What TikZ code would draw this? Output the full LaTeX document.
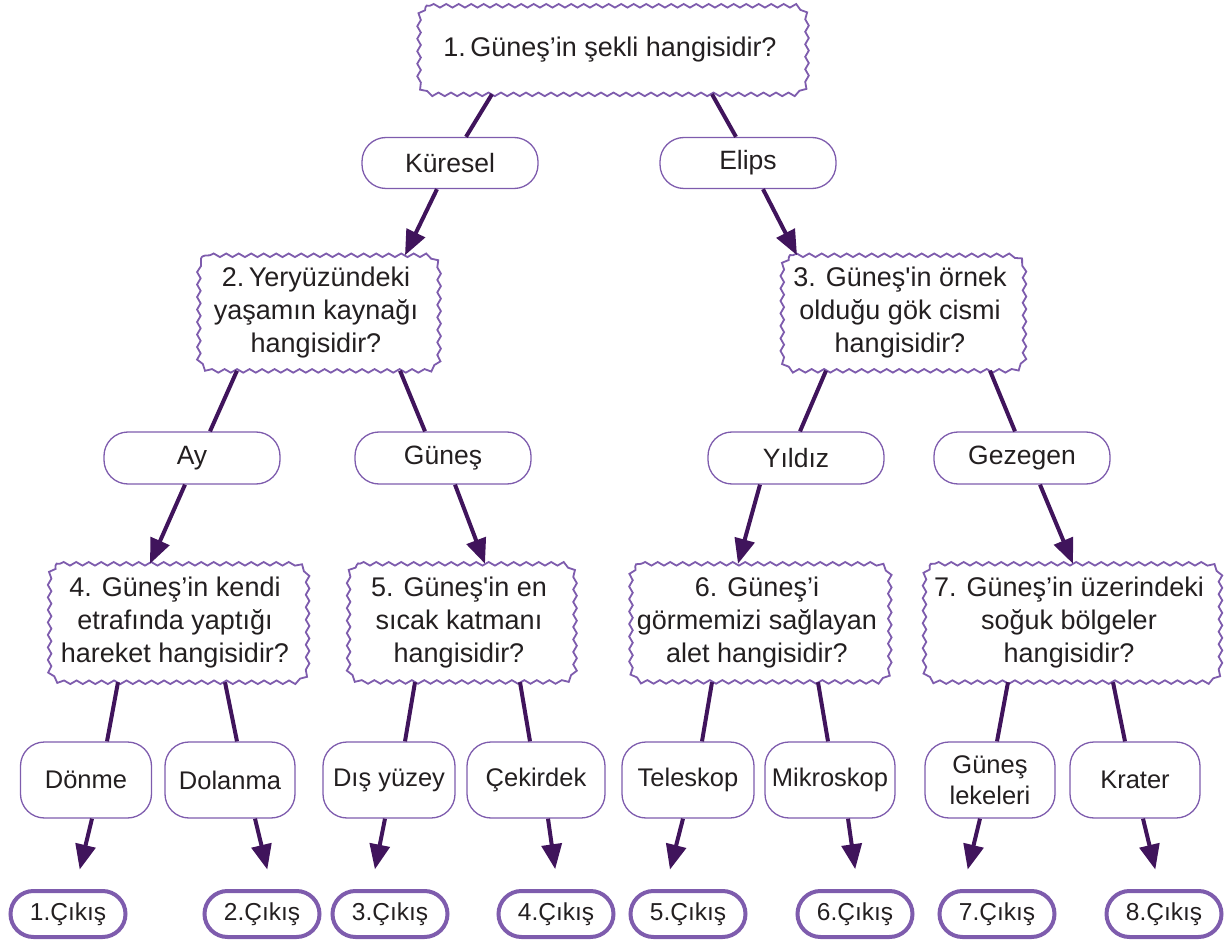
\documentclass[tikz,border=0pt]{standalone}
\usepackage{fontspec}
\setmainfont{Liberation Sans}
\usetikzlibrary{arrows.meta,decorations.pathmorphing,positioning}
\definecolor{boxline}{HTML}{7E5CAD}
\definecolor{linkline}{HTML}{40145C}
\definecolor{ink}{HTML}{231F20}
\tikzset{
    question/.style={
    rectangle,align=center,
    font=\fontsize{27}{33}\selectfont,text=ink,inner sep=0pt
    },
    wavy/.style={
    draw=boxline,line width=1.8pt,
    decorate,decoration={snake,amplitude=1.8pt,segment length=12.5pt}
    },
    choice/.style={
    rectangle,rounded corners=24pt,draw=boxline,line width=1.3pt,align=center,
    font=\fontsize{25.5}{31}\selectfont,text=ink,inner sep=0pt
    },
    bigchoice/.style={
    choice,font=\fontsize{26.5}{31}\selectfont,minimum width=176pt
    },
    cikis/.style={
    rectangle,rounded corners=23pt,draw=boxline,line width=4pt,align=center,
    font=\fontsize{24.5}{29}\selectfont,text=ink,inner sep=0pt,
    minimum width=115pt,minimum height=46pt
    },
    link/.style={
    draw=linkline,line width=4pt
    },
    arr/.style={
    draw=linkline,line width=4pt,-{Triangle[width=20pt,length=25pt]}
    },
}

\begin{document}
\begin{tikzpicture}[x=1pt,y=-1pt]
   \useasboundingbox (0,0) rectangle (1227,941);
   % questions
   \node[question,minimum width=388pt,minimum height=88pt] (q1) at (610,50) {1.\,Güneş’in şekli hangisidir?};
   \node[question,minimum width=240pt,minimum height=115pt] (q2) at (316,313) {2.\,Yeryüzündeki\\yaşamın kaynağı\\hangisidir?};
   \node[question,minimum width=242pt,minimum height=115pt] (q3) at (900,313) {3. Güneş\textquotesingle in örnek\\olduğu gök cismi\\hangisidir?};
   \node[question,minimum width=258pt,minimum height=118pt] (q4) at (175,623) {4. Güneş’in kendi\\etrafında yaptığı\\hareket hangisidir?};
   \node[question,minimum width=226pt,minimum height=118pt] (q5) at (459,623) {5. Güneş\textquotesingle in en\\sıcak katmanı\\hangisidir?};
   \node[question,minimum width=259pt,minimum height=118pt] (q6) at (757,623) {6. Güneş’i\\görmemizi sağlayan\\alet hangisidir?};
   \node[question,minimum width=296pt,minimum height=118pt] (q7) at (1069,623) {7. Güneş’in üzerindeki\\soğuk bölgeler\\hangisidir?};

   % wavy frames round the questions
   \foreach \i in {1,...,7}
     \draw[wavy] ([xshift=14pt]q\i.north west) -- ([xshift=-14pt]q\i.north east)
       arc[start angle=90,end angle=0,radius=14pt] -- ([yshift=14pt]q\i.south east)
       arc[start angle=0,end angle=-90,radius=14pt] -- ([xshift=14pt]q\i.south west)
       arc[start angle=-90,end angle=-180,radius=14pt] -- ([yshift=-14pt]q\i.north west)
       arc[start angle=180,end angle=90,radius=14pt] -- cycle;

   % answers
   \node[bigchoice,minimum height=51pt] (kur) at (450,163) {Küresel};
   \node[bigchoice,minimum height=51pt] (eli) at (748,163) {Elips};
   \node[bigchoice,minimum height=52pt] (ay) at (192,458) {Ay};
   \node[bigchoice,minimum height=52pt] (gun) at (443,458) {Güneş};
   \node[bigchoice,minimum height=52pt] (yil) at (796,458) {Yıldız};
   \node[bigchoice,minimum height=52pt] (gez) at (1022,458) {Gezegen};

   \node[choice,minimum width=131pt,minimum height=76pt] (don) at (86,780) {Dönme};
   \node[choice,minimum width=130pt,minimum height=76pt] (dol) at (230,780) {Dolanma};
   \node[choice,minimum width=132pt,minimum height=76pt] (dis) at (389,780) {Dış yüzey};
   \node[choice,minimum width=138pt,minimum height=76pt] (cek) at (536,780) {Çekirdek};
   \node[choice,minimum width=132pt,minimum height=76pt] (tel) at (688,780) {Teleskop};
   \node[choice,minimum width=130pt,minimum height=76pt] (mik) at (830,780) {Mikroskop};
   \node[choice,minimum width=130pt,minimum height=76pt] (gl) at (990,780) {Güneş\\lekeleri};
   \node[choice,minimum width=130pt,minimum height=76pt] (kra) at (1135,780) {Krater};

   % exits
   \node[cikis] (c1) at (68,914) {1.Çıkış};
   \node[cikis] (c2) at (262,914) {2.Çıkış};
   \node[cikis] (c3) at (390,914) {3.Çıkış};
   \node[cikis] (c4) at (556,914) {4.Çıkış};
   \node[cikis] (c5) at (688,914) {5.Çıkış};
   \node[cikis] (c6) at (855,914) {6.Çıkış};
   \node[cikis] (c7) at (997,914) {7.Çıkış};
   \node[cikis] (c8) at (1164,914) {8.Çıkış};

  \path[every edge/.style=link]
    ([xshift=-118]q1.south) edge ([xshift=16]kur.north)
    ([xshift=102]q1.south) edge ([xshift=-12]eli.north)
    ([xshift=-79]q2.south) edge ([xshift=18]ay.north)
    ([xshift=84]q2.south) edge ([xshift=-18]gun.north)
    ([xshift=-74]q3.south) edge ([xshift=4]yil.north)
    ([xshift=90]q3.south) edge ([xshift=-7]gez.north)
    ([xshift=-57]q4.south) edge ([xshift=21]don.north)
    ([xshift=50]q4.south) edge ([xshift=7]dol.north)
    ([xshift=-44]q5.south) edge ([xshift=16]dis.north)
    ([xshift=61]q5.south) edge ([xshift=-6]cek.north)
    ([xshift=-45]q6.south) edge ([xshift=14]tel.north)
    ([xshift=61]q6.south) edge ([xshift=-2]mik.north)
    ([xshift=-61]q7.south) edge ([xshift=7]gl.north)
    ([xshift=44]q7.south) edge ([xshift=-10]kra.north);

  \path[every edge/.style=arr]
    ([xshift=-13]kur.south) edge ([xshift=89]q2.north)
    ([xshift=15]eli.south) edge ([xshift=-103]q3.north)
    ([xshift=-7]ay.south) edge ([xshift=-25]q4.north)
    ([xshift=12]gun.south) edge ([xshift=26]q5.north)
    ([xshift=-36]yil.south) edge ([xshift=-19]q6.north)
    ([xshift=18]gez.south) edge ([xshift=4]q7.north);

  \path[every edge/.style={arr,shorten >=20pt}]
    ([xshift=6]don.south) edge ([xshift=7]c1.north)
    ([xshift=25]dol.south) edge ([xshift=10]c2.north)
    ([xshift=-4]dis.south) edge ([xshift=-19]c3.north)
    ([xshift=12]cek.south) edge ([xshift=2]c4.north)
    ([xshift=-5]tel.south) edge ([xshift=-23]c5.north)
    ([xshift=18]mik.south) edge ([xshift=3]c6.north)
    ([xshift=-10]gl.south) edge ([xshift=-34]c7.north)
    ([xshift=8]kra.south) edge ([xshift=-4]c8.north);
\end{tikzpicture}
\end{document}
